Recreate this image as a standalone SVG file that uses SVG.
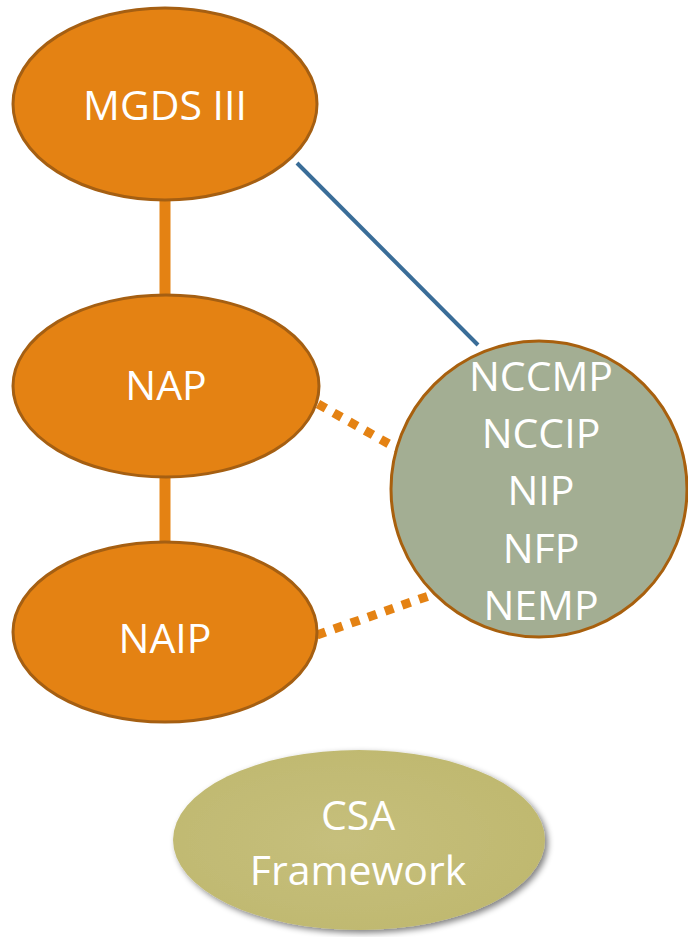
<svg xmlns="http://www.w3.org/2000/svg" width="688" height="937" viewBox="0 0 688 937">
<defs>
<style>
.org{fill:#e48213;stroke:#a55f12;stroke-width:3}
.t{font-family:"Open Sans","Liberation Sans",sans-serif;font-size:41px;fill:#ffffff;text-anchor:middle}
.solid{stroke:#e48213;stroke-width:11;fill:none}
.dot{stroke:#e48213;stroke-width:9;stroke-dasharray:9 9;fill:none}
</style>
<filter id="sh" x="-10%" y="-10%" width="130%" height="130%">
<feGaussianBlur in="SourceAlpha" stdDeviation="3"/>
<feOffset dx="3" dy="3"/>
<feComponentTransfer><feFuncA type="linear" slope="0.5"/></feComponentTransfer>
<feMerge><feMergeNode/><feMergeNode in="SourceGraphic"/></feMerge>
</filter>
<radialGradient id="csa" cx="0.45" cy="0.5" r="0.6">
<stop offset="0" stop-color="#c6bf7c"/>
<stop offset="1" stop-color="#bfb86f"/>
</radialGradient>
</defs>
<g id="connectors">
<line class="solid" x1="165" y1="198" x2="165" y2="300"/>
<line class="solid" x1="165" y1="478" x2="165" y2="544"/>
<line x1="297" y1="163" x2="478" y2="345" stroke="#3a6d98" stroke-width="4"/>
<line class="dot" x1="318" y1="404" x2="398" y2="449"/>
<line class="dot" x1="317" y1="635" x2="440" y2="592"/>
</g>
<g id="mgds">
<ellipse class="org" cx="165" cy="104" rx="152" ry="96"/>
<text class="t" x="165" y="120">MGDS III</text>
</g>
<g id="nap">
<ellipse class="org" cx="166" cy="386" rx="153" ry="91"/>
<text class="t" x="166" y="400">NAP</text>
</g>
<g id="naip">
<ellipse class="org" cx="165" cy="632" rx="152" ry="90"/>
<text class="t" x="165" y="653">NAIP</text>
</g>
<g id="plans">
<circle cx="539" cy="489" r="148" fill="#a3ae93" stroke="#a8600e" stroke-width="3"/>
<text class="t" x="541" y="391">NCCMP</text>
<text class="t" x="541" y="448">NCCIP</text>
<text class="t" x="541" y="505">NIP</text>
<text class="t" x="541" y="563">NFP</text>
<text class="t" x="541" y="620">NEMP</text>
</g>
<g id="csa-framework">
<ellipse cx="359" cy="840" rx="186" ry="90" fill="url(#csa)" filter="url(#sh)"/>
<text class="t" x="358" y="830">CSA</text>
<text class="t" x="358" y="885">Framework</text>
</g>
</svg>
